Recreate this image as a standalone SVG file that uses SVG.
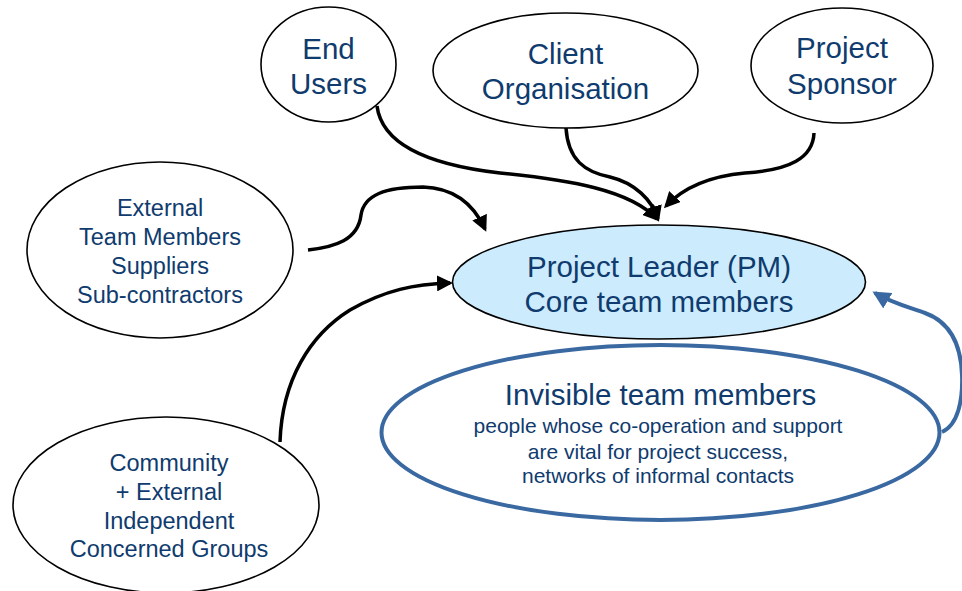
<svg xmlns="http://www.w3.org/2000/svg" width="962" height="591" viewBox="0 0 962 591">
<defs>
<style>
.node{fill:#ffffff;stroke:#000000;stroke-width:1.6}
.core{fill:#CCEBFC;stroke:#000000;stroke-width:1.6}
.invis{fill:#ffffff;stroke:#3A69A2;stroke-width:4}
.t{font-family:"Liberation Sans",Arial,sans-serif;fill:#0F3B6E;text-anchor:middle}
.big{font-size:29.5px}
.mid{font-size:23.5px}
.sm{font-size:21px}
.c{fill:none;stroke:#000000;stroke-width:3.5}
.cb{fill:none;stroke:#3A69A2;stroke-width:4}
</style>
<marker id="ah" markerUnits="userSpaceOnUse" viewBox="0 0 16 16" refX="13" refY="8" markerWidth="16" markerHeight="16" orient="auto">
<path d="M0,0 L16,8 L0,16 z" fill="#000000"/>
</marker>
<marker id="ahb" markerUnits="userSpaceOnUse" viewBox="0 0 18 18" refX="15" refY="9" markerWidth="18" markerHeight="18" orient="auto">
<path d="M0,0 L18,9 L0,18 z" fill="#3A69A2"/>
</marker>
</defs>
<rect x="0" y="0" width="962" height="591" fill="#ffffff"/>

<g id="node-end-users">
<ellipse class="node" cx="328.5" cy="64.5" rx="67.5" ry="57.5"/>
<text class="t big" x="328.5" y="59">End</text>
<text class="t big" x="328.5" y="94">Users</text>
</g>

<g id="node-client">
<ellipse class="node" cx="565.5" cy="70.5" rx="132.5" ry="57.5"/>
<text class="t big" x="565.5" y="64">Client</text>
<text class="t big" x="565.5" y="99">Organisation</text>
</g>

<g id="node-sponsor">
<ellipse class="node" cx="842" cy="65.5" rx="91" ry="57.5"/>
<text class="t big" x="842" y="58">Project</text>
<text class="t big" x="842" y="94">Sponsor</text>
</g>

<g id="node-external">
<ellipse class="node" cx="160" cy="250" rx="133" ry="88"/>
<text class="t mid" x="160" y="216">External</text>
<text class="t mid" x="160" y="245">Team Members</text>
<text class="t mid" x="160" y="274">Suppliers</text>
<text class="t mid" x="160" y="303">Sub-contractors</text>
</g>

<g id="node-community">
<ellipse class="node" cx="166" cy="505" rx="153" ry="88"/>
<text class="t mid" x="169" y="471">Community</text>
<text class="t mid" x="169" y="500">+ External</text>
<text class="t mid" x="169" y="529">Independent</text>
<text class="t mid" x="169" y="557">Concerned Groups</text>
</g>

<g id="node-core">
<ellipse class="core" cx="659" cy="282" rx="206.5" ry="57"/>
<text class="t big" x="659" y="277">Project Leader (PM)</text>
<text class="t big" x="659" y="312">Core team members</text>
</g>

<g id="node-invisible">
<ellipse class="invis" cx="660.5" cy="432.5" rx="279" ry="87.5"/>
<text class="t big" x="660.5" y="405">Invisible team members</text>
<text class="t sm" x="658" y="433">people whose co-operation and support</text>
<text class="t sm" x="658" y="459">are vital for project success,</text>
<text class="t sm" x="658" y="483">networks of informal contacts</text>
</g>

<g id="connectors">
<path class="c" marker-end="url(#ah)" d="M377,106 C382,145 430,165 500,173 C570,180 630,190 657,219"/>
<path class="c" marker-end="url(#ah)" d="M566,128 C568,160 585,172 610,177 C635,183 652,200 658,219"/>
<path class="c" marker-end="url(#ah)" d="M814,133 C813,158 790,170 745,173 C712,176 685,186 666,206"/>
<path class="c" marker-end="url(#ah)" d="M308,250 C335,247 358,240 361,215 C364,195 385,187 423,187 C455,188 474,205 485,229"/>
<path class="c" marker-end="url(#ah)" d="M280,442 C282,380 310,335 350,310 C385,290 415,284 450,283"/>
<path class="cb" marker-end="url(#ahb)" d="M942,432 C958,425 963,400 962,375 C961,345 950,322 925,313 C905,306 890,302 875,293"/>
</g>
</svg>
